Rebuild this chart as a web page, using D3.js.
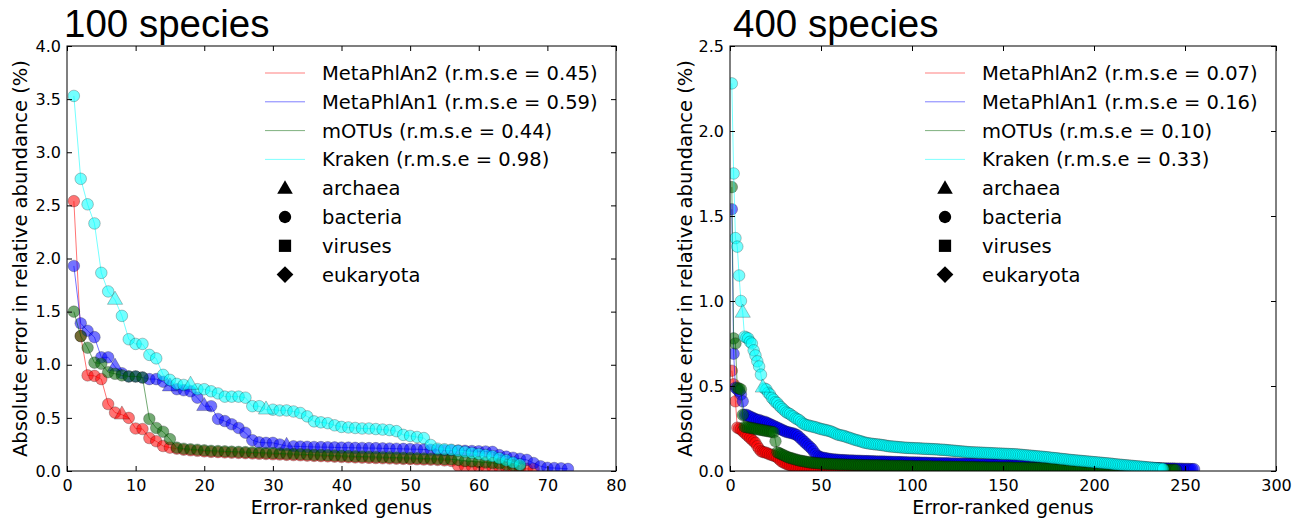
<!DOCTYPE html>
<html><head><meta charset="utf-8">
<script src="https://cdn.jsdelivr.net/npm/d3@7"></script>
<style>body{margin:0;background:#fff}svg{display:block}</style>
</head><body>
<svg id="chart" width="1310" height="522"></svg>
<script>
// ---------- data ----------
const seriesNames = ["MetaPhlAn2", "MetaPhlAn1", "mOTUs", "Kraken"];
const rmse100 = ["0.45", "0.59", "0.44", "0.98"];
const rmse400 = ["0.07", "0.16", "0.10", "0.33"];
const kingdoms = ["archaea", "bacteria", "viruses", "eukaryota"];
const xTicks100 = [0, 10, 20, 30, 40, 50, 60, 70, 80];
const yTicks100 = [0.0, 0.5, 1.0, 1.5, 2.0, 2.5, 3.0, 3.5, 4.0];
const xTicks400 = [0, 50, 100, 150, 200, 250, 300];
const yTicks400 = [0.0, 0.5, 1.0, 1.5, 2.0, 2.5];

// 100 species
const mp2_100 = [2.54,1.27,0.90,0.895,0.865,0.63,0.55,0.53,0.50,0.40,0.395,0.31,0.28,0.235,0.22,
  0.21,0.2,0.195,0.19,0.185,0.18,0.178,0.175,0.172,0.17,0.168,0.165,0.162,0.16,0.157,0.155,0.152,0.15,0.148,0.145,
  0.142,0.14,0.138,0.135,0.132,0.13,0.128,0.126,0.124,0.122,0.12,0.118,0.116,0.114,0.112,0.11,0.108,0.106,0.104,0.1,
  0.095,0.05,0.045,0.045,0.04,0.04,0.035,0.035,0.03,0.03,0.025,0.02,0.02];
const mp1_100 = [1.93,1.39,1.32,1.26,1.07,1.07,0.98,0.92,0.89,0.89,
  0.88,0.865,0.865,0.84,0.795,0.77,0.76,0.75,0.69,0.61,
  0.61,0.49,0.47,0.44,0.405,0.36,0.29,0.27,0.265,0.265,
  0.25,0.235,0.233,0.23,0.228,0.226,0.225,0.224,0.222,0.22,
  0.22,0.218,0.217,0.216,0.215,0.213,0.212,0.21,0.208,0.206,
  0.205,0.203,0.2,0.198,0.196,0.195,0.193,0.19,0.188,0.186,
  0.184,0.18,0.15,0.135,0.125,0.115,0.105,0.075,0.045,0.03,
  0.028,0.025,0.02];
const motu_100 = [1.50,1.27,1.16,1.02,1.01,0.93,0.915,0.90,0.89,0.89,0.88,0.49,0.405,0.37,0.30,
  0.22,0.21,0.205,0.2,0.195,0.19,0.188,0.185,0.182,0.18,0.178,0.175,0.172,0.17,0.168,0.165,0.162,0.16,0.158,0.155,
  0.152,0.15,0.148,0.145,0.142,0.14,0.138,0.136,0.134,0.132,0.13,0.128,0.126,0.124,0.122,0.12,0.118,0.116,0.114,0.112,
  0.11,0.105,0.095,0.09,0.085,0.08,0.075,0.07,0.06,0.055,0.045];
const kraken_100 = [3.53,2.75,2.51,2.33,1.865,1.69,1.61,1.46,1.24,1.196,
  1.196,1.093,1.06,0.905,0.858,0.82,0.81,0.81,0.77,0.77,
  0.75,0.73,0.70,0.70,0.70,0.69,0.61,0.61,0.577,0.577,
  0.57,0.57,0.56,0.546,0.514,0.467,0.458,0.45,0.43,0.415,
  0.41,0.405,0.40,0.40,0.395,0.39,0.385,0.375,0.34,0.33,
  0.32,0.31,0.245,0.21,0.205,0.20,0.19,0.18,0.17,0.16,
  0.15,0.14,0.12,0.10,0.08,0.06];
const archaea100 = [[8], [7, 15, 20, 32], [], [7, 18, 29]];

// 400 species
const mp2_400 = [0.59,0.51,0.41,0.255,0.25,0.245,0.235,0.224,0.215,0.205,
  0.195,0.185,0.175,0.165,0.146,0.13,0.117,0.112,0.11,0.107,
  0.102,0.097,0.094,0.09,0.087,0.08,0.07,0.06,0.052,0.047,
  0.042,0.038,0.034,0.031,0.028,0.026,0.024,0.022,0.021,0.02,
  0.019,0.018,0.017,0.016,0.015,0.014,0.014,0.013,0.013,0.012,
  0.012,0.012,0.011,0.011,0.011,0.011,0.01,0.01,0.01,0.01,
  0.01,0.01,0.009,0.009,0.009,0.009,0.009,0.009,0.009,0.009,
  0.008,0.008,0.008,0.008,0.008,0.008,0.008,0.008,0.008,0.008,
  0.008,0.008,0.008,0.008,0.008,0.007,0.007,0.007,0.007,0.007,
  0.007,0.007,0.007,0.007,0.007,0.007,0.007,0.007,0.007,0.007,
  0.007,0.007,0.006,0.006,0.006,0.006,0.006,0.006,0.006,0.006,
  0.006,0.006,0.006,0.006,0.006,0.006,0.006,0.006,0.006,0.006,
  0.006,0.006,0.006,0.006,0.006,0.005,0.005,0.005,0.005,0.005,
  0.005,0.005,0.005,0.005,0.005,0.005,0.005,0.005,0.005,0.005,
  0.005,0.005,0.005,0.005,0.005,0.005,0.005,0.005,0.005,0.005,
  0.005,0.005,0.005,0.005,0.004,0.004,0.004,0.004,0.004,0.004,
  0.004,0.004,0.004,0.004,0.004,0.004,0.004,0.004,0.004,0.004,
  0.004,0.004,0.004,0.004,0.004,0.004,0.004,0.004,0.004,0.004,
  0.004,0.004,0.004,0.003,0.003,0.003,0.003,0.003,0.003,0.003,
  0.003,0.003,0.003,0.003,0.003,0.003,0.003,0.003,0.003,0.003,
  0.003,0.003,0.003,0.003,0.003,0.003,0.003,0.003,0.003,0.003,
  0.003,0.003,0.002,0.002,0.002,0.002,0.002,0.002,0.002,0.002,
  0.002,0.002,0.002,0.002,0.002,0.002,0.002,0.002,0.002,0.002,
  0.002,0.001,0.001,0.001,0.001];
const mp1_400 = [1.54,0.69,0.49,0.48,0.47,0.45,0.41,0.33,0.33,0.325,
  0.32,0.315,0.31,0.305,0.30,0.30,0.295,0.29,0.29,0.285,
  0.28,0.275,0.27,0.265,0.26,0.255,0.25,0.245,0.24,0.235,
  0.23,0.228,0.225,0.222,0.22,0.215,0.21,0.2,0.19,0.18,
  0.17,0.16,0.15,0.14,0.13,0.115,0.10,0.09,0.085,0.08,
  0.078,0.076,0.074,0.072,0.07,0.069,0.068,0.067,0.066,0.065,
  0.064,0.064,0.063,0.063,0.062,0.062,0.061,0.061,0.06,0.06,
  0.06,0.059,0.059,0.058,0.058,0.058,0.057,0.057,0.057,0.056,
  0.056,0.056,0.055,0.055,0.055,0.054,0.054,0.054,0.053,0.053,
  0.053,0.052,0.052,0.052,0.051,0.051,0.051,0.05,0.05,0.05,
  0.05,0.049,0.049,0.049,0.048,0.048,0.048,0.048,0.047,0.047,
  0.047,0.047,0.046,0.046,0.046,0.046,0.045,0.045,0.045,0.045,
  0.044,0.044,0.044,0.044,0.043,0.043,0.043,0.043,0.042,0.042,
  0.042,0.042,0.041,0.041,0.041,0.041,0.04,0.04,0.04,0.04,
  0.039,0.039,0.039,0.039,0.038,0.038,0.038,0.038,0.037,0.037,
  0.037,0.037,0.036,0.036,0.036,0.036,0.035,0.035,0.035,0.035,
  0.034,0.034,0.034,0.034,0.033,0.033,0.033,0.033,0.032,0.032,
  0.032,0.032,0.031,0.031,0.031,0.031,0.03,0.03,0.03,0.03,
  0.029,0.029,0.029,0.029,0.028,0.028,0.028,0.028,0.027,0.027,
  0.027,0.027,0.026,0.026,0.026,0.026,0.025,0.025,0.025,0.025,
  0.024,0.024,0.024,0.024,0.023,0.023,0.023,0.023,0.022,0.022,
  0.022,0.022,0.021,0.021,0.021,0.021,0.02,0.02,0.02,0.02,
  0.019,0.019,0.019,0.019,0.018,0.018,0.018,0.018,0.017,0.017,
  0.017,0.017,0.016,0.016,0.016,0.016,0.015,0.015,0.015,0.015,
  0.014,0.014,0.014,0.014,0.013,0.013,0.013,0.013,0.012,0.012,
  0.012,0.012,0.011,0.011,0.011];
const motu_400 = [1.67,0.78,0.75,0.49,0.485,0.48,0.33,0.26,0.258,0.256,
  0.254,0.252,0.25,0.248,0.246,0.244,0.242,0.24,0.238,0.236,
  0.234,0.232,0.23,0.228,0.175,0.11,0.105,0.1,0.095,0.09,
  0.085,0.08,0.077,0.074,0.071,0.068,0.065,0.062,0.06,0.058,
  0.056,0.054,0.052,0.05,0.049,0.048,0.047,0.046,0.045,0.044,
  0.043,0.043,0.042,0.042,0.041,0.041,0.04,0.04,0.039,0.039,
  0.038,0.038,0.038,0.037,0.037,0.037,0.036,0.036,0.036,0.035,
  0.035,0.035,0.034,0.034,0.034,0.034,0.033,0.033,0.033,0.033,
  0.033,0.033,0.032,0.032,0.032,0.032,0.031,0.031,0.031,0.031,
  0.03,0.03,0.03,0.03,0.03,0.029,0.029,0.029,0.029,0.029,
  0.028,0.028,0.028,0.028,0.028,0.027,0.027,0.027,0.027,0.027,
  0.026,0.026,0.026,0.026,0.026,0.026,0.025,0.025,0.025,0.025,
  0.025,0.025,0.024,0.024,0.024,0.024,0.024,0.024,0.023,0.023,
  0.023,0.023,0.023,0.023,0.022,0.022,0.022,0.022,0.022,0.022,
  0.021,0.021,0.021,0.021,0.021,0.021,0.021,0.02,0.02,0.02,
  0.02,0.02,0.02,0.02,0.02,0.019,0.019,0.019,0.019,0.019,
  0.019,0.019,0.018,0.018,0.018,0.018,0.018,0.018,0.018,0.017,
  0.017,0.017,0.017,0.017,0.017,0.017,0.016,0.016,0.016,0.016,
  0.016,0.016,0.016,0.015,0.015,0.015,0.015,0.015,0.015,0.015,
  0.014,0.014,0.014,0.014,0.014,0.014,0.014,0.013,0.013,0.013,
  0.013,0.013,0.013,0.013,0.012,0.012,0.012,0.012,0.012,0.012,
  0.012,0.011,0.011,0.011,0.011,0.011,0.011,0.011,0.01,0.01,
  0.01,0.01,0.01,0.01,0.01,0.009,0.009,0.009,0.009,0.009,
  0.009,0.009,0.008,0.008,0.008,0.008,0.008,0.008,0.008,0.007,
  0.007,0.007,0.007,0.007,0.007];
const kraken_400 = [2.28,1.75,1.37,1.32,1.15,1.00,0.93,0.79,0.785,0.78,
  0.76,0.75,0.71,0.68,0.645,0.615,0.567,0.49,0.485,0.48,
  0.46,0.45,0.43,0.42,0.405,0.40,0.385,0.375,0.365,0.355,
  0.345,0.34,0.335,0.325,0.32,0.31,0.305,0.30,0.29,0.28,
  0.275,0.27,0.268,0.265,0.262,0.26,0.257,0.254,0.25,0.247,
  0.245,0.242,0.24,0.237,0.234,0.23,0.225,0.22,0.215,0.212,
  0.21,0.207,0.205,0.2,0.197,0.194,0.19,0.186,0.183,0.18,
  0.177,0.174,0.17,0.167,0.165,0.163,0.161,0.16,0.158,0.157,
  0.156,0.155,0.153,0.152,0.15,0.148,0.146,0.145,0.144,0.143,
  0.142,0.141,0.14,0.139,0.138,0.137,0.136,0.136,0.135,0.135,
  0.134,0.134,0.133,0.133,0.132,0.131,0.131,0.13,0.13,0.129,
  0.129,0.128,0.128,0.127,0.126,0.125,0.125,0.124,0.123,0.122,
  0.121,0.12,0.119,0.118,0.117,0.116,0.115,0.114,0.113,0.112,
  0.111,0.11,0.11,0.109,0.109,0.108,0.108,0.107,0.107,0.106,
  0.106,0.105,0.105,0.104,0.104,0.103,0.103,0.102,0.102,0.101,
  0.101,0.1,0.1,0.099,0.099,0.098,0.098,0.097,0.096,0.095,
  0.094,0.093,0.092,0.091,0.09,0.089,0.088,0.087,0.086,0.085,
  0.084,0.083,0.082,0.081,0.08,0.078,0.077,0.076,0.075,0.074,
  0.072,0.071,0.07,0.069,0.068,0.066,0.065,0.064,0.063,0.062,
  0.061,0.06,0.059,0.058,0.057,0.056,0.055,0.054,0.053,0.052,
  0.051,0.05,0.049,0.048,0.047,0.046,0.045,0.044,0.043,0.042,
  0.04,0.039,0.038,0.037,0.036,0.035,0.034,0.033,0.032,0.031,
  0.03,0.029,0.028,0.027,0.026,0.025,0.024,0.023,0.022,0.021,
  0.02,0.019,0.018,0.017,0.016,0.015,0.014,0.013];
const archaea400 = [[], [], [], [7, 18]];

const seriesColors = ["#ff0000", "#0000ff", "#006400", "#00ffff"];

// ---------- drawing ----------
const svg = d3.select("#chart");
const FONT = "DejaVu Sans, Verdana, sans-serif";

function drawPanel(cfg, idx) {
  const x = d3.scaleLinear().domain(cfg.xDomain).range([cfg.left, cfg.right]);
  const y = d3.scaleLinear().domain(cfg.yDomain).range([cfg.bottom, cfg.top]);
  const g = svg.append("g");

  const clipId = "clip" + idx;
  svg.append("clipPath").attr("id", clipId).append("rect")
    .attr("x", cfg.left).attr("y", cfg.top)
    .attr("width", cfg.right - cfg.left).attr("height", cfg.bottom - cfg.top);

  const data = g.append("g").attr("clip-path", `url(#${clipId})`);
  const line = d3.line().x((d, i) => x(i + 1)).y(d => y(d));
  cfg.series.forEach((vals, si) => {
    const col = seriesColors[si];
    data.append("path").datum(vals).attr("d", line)
      .attr("fill", "none").attr("stroke", col).attr("stroke-opacity", 0.55).attr("stroke-width", 1);
    const arch = new Set(cfg.archaea[si]);
    const pts = vals.map((v, i) => ({ i: i + 1, v, a: arch.has(i + 1) }));
    data.selectAll(null).data(pts.filter(p => !p.a)).enter().append("circle")
      .attr("cx", p => x(p.i)).attr("cy", p => y(p.v)).attr("r", 5.8)
      .attr("fill", col).attr("fill-opacity", 0.55)
      .attr("stroke", "#000").attr("stroke-opacity", 0.3).attr("stroke-width", 0.8);
    data.selectAll(null).data(pts.filter(p => p.a)).enter().append("path")
      .attr("d", d3.symbol().type(d3.symbolTriangle).size(100))
      .attr("transform", p => `translate(${x(p.i)},${y(p.v)})`)
      .attr("fill", col).attr("fill-opacity", 0.55)
      .attr("stroke", "#000").attr("stroke-opacity", 0.3).attr("stroke-width", 0.8);
  });

  // axes (ticks inward on all four sides)
  const tl = 5;
  const axB = d3.axisBottom(x).tickValues(cfg.xTicks).tickSize(-tl).tickPadding(9).tickFormat(d3.format("d"));
  const axT = d3.axisTop(x).tickValues(cfg.xTicks).tickSize(-tl).tickFormat("");
  const axL = d3.axisLeft(y).tickValues(cfg.yTicks).tickSize(-tl).tickPadding(6).tickFormat(d3.format(".1f"));
  const axR = d3.axisRight(y).tickValues(cfg.yTicks).tickSize(-tl).tickFormat("");
  const styleAx = sel => {
    sel.select(".domain").remove();
    sel.selectAll("line").attr("stroke", "#000").attr("stroke-width", 1);
    sel.selectAll("text").attr("font-family", FONT).attr("font-size", 16).attr("fill", "#000");
  };
  g.append("g").attr("transform", `translate(0,${cfg.bottom})`).call(axB).call(styleAx);
  g.append("g").attr("transform", `translate(0,${cfg.top})`).call(axT).call(styleAx);
  g.append("g").attr("transform", `translate(${cfg.left},0)`).call(axL).call(styleAx);
  g.append("g").attr("transform", `translate(${cfg.right},0)`).call(axR).call(styleAx);
  g.append("rect").attr("x", cfg.left).attr("y", cfg.top)
    .attr("width", cfg.right - cfg.left).attr("height", cfg.bottom - cfg.top)
    .attr("fill", "none").attr("stroke", "#000").attr("stroke-width", 1);

  // title
  g.append("text").attr("x", cfg.titleX).attr("y", 37).text(cfg.title)
    .attr("font-family", "Liberation Sans, Arial, sans-serif").attr("font-size", 38.5).attr("fill", "#000");

  // axis labels
  g.append("text").attr("x", (cfg.left + cfg.right) / 2).attr("y", 514)
    .attr("text-anchor", "middle").attr("font-family", FONT).attr("font-size", 19)
    .text("Error-ranked genus");
  g.append("text").attr("transform", `translate(${cfg.ylabX},${(cfg.top + cfg.bottom) / 2}) rotate(-90)`)
    .attr("text-anchor", "middle").attr("font-family", FONT).attr("font-size", 19.5)
    .text("Absolute error in relative abundance (%)");

  // legend
  const tx = cfg.right - 294;
  const rowY = i => 73 + i * 28.8;
  const leg = g.append("g");
  seriesNames.forEach((name, i) => {
    leg.append("line").attr("x1", tx - 57).attr("x2", tx - 17).attr("y1", rowY(i)).attr("y2", rowY(i))
      .attr("stroke", seriesColors[i]).attr("stroke-opacity", 0.5).attr("stroke-width", 1);
    leg.append("text").attr("x", tx).attr("y", rowY(i) + 7)
      .attr("font-family", FONT).attr("font-size", 19.5).attr("fill", "#000")
      .text(`${name} (r.m.s.e = ${cfg.rmse[i]})`);
  });
  const symTypes = [d3.symbolTriangle, d3.symbolCircle, d3.symbolSquare, d3.symbolSquare];
  const symSizes = [105, 120, 150, 140];
  kingdoms.forEach((k, j) => {
    const i = j + 4;
    leg.append("path").attr("d", d3.symbol().type(symTypes[j]).size(symSizes[j]))
      .attr("transform", `translate(${tx - 37},${rowY(i) + (j === 0 ? 1 : 0)})` + (j === 3 ? " rotate(45)" : ""))
      .attr("fill", "#000");
    leg.append("text").attr("x", tx).attr("y", rowY(i) + 7)
      .attr("font-family", FONT).attr("font-size", 19.5).attr("fill", "#000").text(k);
  });
}

drawPanel({
  left: 67, right: 616, top: 46, bottom: 471,
  xDomain: [0, 80], yDomain: [0, 4], xTicks: xTicks100, yTicks: yTicks100,
  series: [mp2_100, mp1_100, motu_100, kraken_100], archaea: archaea100,
  title: "100 species", titleX: 64, ylabX: 27, rmse: rmse100
}, 0);
drawPanel({
  left: 730, right: 1276, top: 46, bottom: 471,
  xDomain: [0, 300], yDomain: [0, 2.5], xTicks: xTicks400, yTicks: yTicks400,
  series: [mp2_400, mp1_400, motu_400, kraken_400], archaea: archaea400,
  title: "400 species", titleX: 733, ylabX: 692, rmse: rmse400
}, 1);
</script>
</body></html>
